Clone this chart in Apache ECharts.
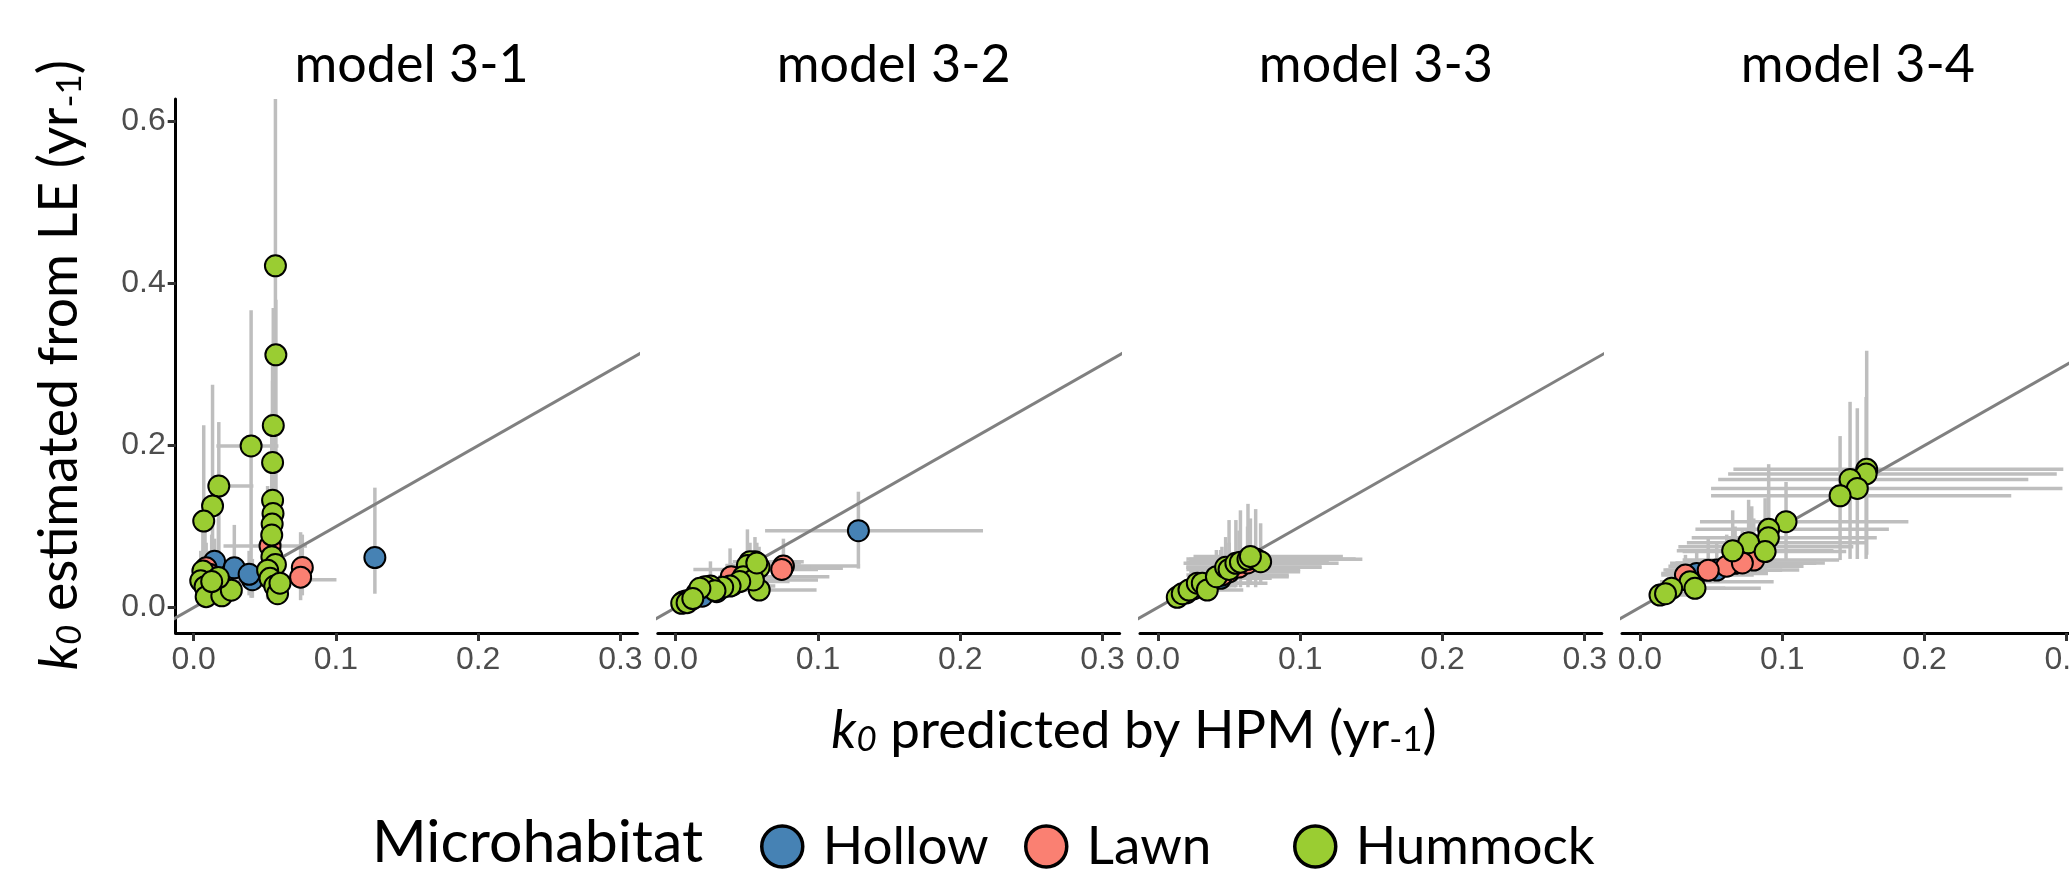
<!DOCTYPE html>
<html>
<head>
<meta charset="utf-8">
<script src="https://cdn.jsdelivr.net/npm/echarts@6/dist/echarts.min.js"></script>
<style>
html,body{margin:0;padding:0;background:#fff;}
#chart{width:2069px;height:873px;}
</style>
</head>
<body>
<div id="chart"></div>
<script>
// ---- data: [x, y, xlo, xhi, ylo, yhi] ----
const xTicks = [0, 0.1, 0.2, 0.3];
const yTicks = [0, 0.2, 0.4, 0.6];
const panelTitles = ['model 3-1', 'model 3-2', 'model 3-3', 'model 3-4'];
const habitats = ['Hollow', 'Lawn', 'Hummock'];
const habitatColors = ['#4682B4', '#FA8072', '#9ACD32'];
const oneToOne = [[-0.1, -0.1], [0.8, 0.8]];

const m31Hollow = [
  [0.1274, 0.0617, 0.1260, 0.1290, 0.017, 0.148],
  [0.0147, 0.0570, 0.0100, 0.0220, 0.030, 0.085],
  [0.0286, 0.0490, 0.0220, 0.0360, 0.010, 0.102],
  [0.0413, 0.0343, 0.0300, 0.1004, 0.012, 0.060],
  [0.0390, 0.0410, 0.0330, 0.0480, 0.015, 0.070],
  [0.0186, 0.0300, 0.0140, 0.0240, 0.012, 0.055]
];
const m31Lawn = [
  [0.0537, 0.0760, 0.0210, 0.0796, 0.030, 0.120],
  [0.0764, 0.0493, 0.0700, 0.0820, 0.015, 0.090],
  [0.0752, 0.0375, 0.0700, 0.0800, 0.009, 0.093],
  [0.0088, 0.0490, 0.0060, 0.0130, 0.020, 0.080],
  [0.0110, 0.0410, 0.0080, 0.0160, 0.018, 0.070]
];
const m31Hummock = [
  [0.0575, 0.4220, 0.0550, 0.0600, 0.010, 0.700],
  [0.0578, 0.3120, 0.0550, 0.0600, 0.020, 0.380],
  [0.0560, 0.2247, 0.0540, 0.0580, 0.015, 0.370],
  [0.0404, 0.1995, 0.0160, 0.0596, 0.012, 0.367],
  [0.0555, 0.1790, 0.0530, 0.0580, 0.020, 0.300],
  [0.0177, 0.1500, 0.0160, 0.0420, 0.010, 0.229],
  [0.0133, 0.1255, 0.0120, 0.0150, 0.010, 0.275],
  [0.0071, 0.1067, 0.0060, 0.0080, 0.010, 0.225],
  [0.0555, 0.1324, 0.0530, 0.0580, 0.020, 0.280],
  [0.0558, 0.1160, 0.0530, 0.0580, 0.020, 0.260],
  [0.0552, 0.1030, 0.0530, 0.0575, 0.020, 0.240],
  [0.0549, 0.0895, 0.0530, 0.0575, 0.015, 0.220],
  [0.0550, 0.0627, 0.0500, 0.0600, 0.010, 0.200],
  [0.0575, 0.0530, 0.0520, 0.0620, 0.010, 0.180],
  [0.0520, 0.0460, 0.0480, 0.0570, 0.010, 0.150],
  [0.0537, 0.0360, 0.0490, 0.0580, 0.010, 0.120],
  [0.0570, 0.0265, 0.0520, 0.0620, 0.008, 0.100],
  [0.0590, 0.0170, 0.0550, 0.0640, 0.005, 0.080],
  [0.0607, 0.0300, 0.0560, 0.0650, 0.008, 0.090],
  [0.0065, 0.0450, 0.0040, 0.0090, 0.015, 0.092],
  [0.0050, 0.0330, 0.0030, 0.0080, 0.015, 0.070],
  [0.0080, 0.0257, 0.0050, 0.0120, 0.010, 0.116],
  [0.0088, 0.0134, 0.0060, 0.0120, 0.005, 0.060],
  [0.0198, 0.0145, 0.0150, 0.0250, 0.005, 0.050],
  [0.0265, 0.0214, 0.0200, 0.0340, 0.008, 0.060],
  [0.0174, 0.0370, 0.0120, 0.0250, 0.012, 0.110],
  [0.0127, 0.0320, 0.0100, 0.0160, 0.010, 0.090]
];

const m32Hollow = [
  [0.1284, 0.0948, 0.0628, 0.2160, 0.048, 0.143],
  [0.0148, 0.0175, 0.0100, 0.0300, 0.010, 0.030],
  [0.0288, 0.0195, 0.0200, 0.0450, 0.012, 0.035],
  [0.0400, 0.0280, 0.0300, 0.0650, 0.018, 0.045],
  [0.0186, 0.0140, 0.0120, 0.0300, 0.008, 0.025],
  [0.0390, 0.0310, 0.0280, 0.0600, 0.020, 0.050]
];
const m32Lawn = [
  [0.0757, 0.0512, 0.0350, 0.1296, 0.040, 0.085],
  [0.0745, 0.0470, 0.0600, 0.1000, 0.035, 0.065],
  [0.0390, 0.0380, 0.0300, 0.0800, 0.028, 0.055],
  [0.0077, 0.0084, 0.0050, 0.0150, 0.004, 0.015],
  [0.0054, 0.0072, 0.0040, 0.0120, 0.003, 0.013],
  [0.0110, 0.0100, 0.0080, 0.0200, 0.006, 0.018]
];
const m32Hummock = [
  [0.0557, 0.0566, 0.0450, 0.0900, 0.040, 0.087],
  [0.0569, 0.0484, 0.0450, 0.1175, 0.035, 0.070],
  [0.0586, 0.0496, 0.0480, 0.0950, 0.036, 0.075],
  [0.0587, 0.0216, 0.0450, 0.0990, 0.015, 0.035],
  [0.0522, 0.0470, 0.0124, 0.0800, 0.033, 0.068],
  [0.0522, 0.0565, 0.0400, 0.0850, 0.040, 0.080],
  [0.0504, 0.0520, 0.0350, 0.0750, 0.035, 0.0965],
  [0.0475, 0.0380, 0.0350, 0.1080, 0.028, 0.060],
  [0.0546, 0.0340, 0.0400, 0.1000, 0.025, 0.060],
  [0.0450, 0.0320, 0.0300, 0.0800, 0.022, 0.055],
  [0.0382, 0.0265, 0.0250, 0.0700, 0.018, 0.073],
  [0.0330, 0.0250, 0.0200, 0.0600, 0.017, 0.045],
  [0.0244, 0.0265, 0.0120, 0.0400, 0.018, 0.057],
  [0.0206, 0.0257, 0.0150, 0.0350, 0.017, 0.040],
  [0.0276, 0.0208, 0.0170, 0.0450, 0.014, 0.035],
  [0.0170, 0.0237, 0.0120, 0.0300, 0.015, 0.035],
  [0.0042, 0.0052, 0.0030, 0.0100, 0.002, 0.010],
  [0.0080, 0.0060, 0.0050, 0.0150, 0.003, 0.012],
  [0.0120, 0.0110, 0.0080, 0.0200, 0.006, 0.018],
  [0.0570, 0.0550, 0.0450, 0.0880, 0.040, 0.080]
];

const m33Hollow = [
  [0.0441, 0.0360, 0.0300, 0.0800, 0.028, 0.071],
  [0.0300, 0.0270, 0.0200, 0.0550, 0.020, 0.045],
  [0.0250, 0.0230, 0.0180, 0.0450, 0.016, 0.035]
];
const m33Lawn = [
  [0.0500, 0.0440, 0.0220, 0.1000, 0.032, 0.080],
  [0.0570, 0.0500, 0.0200, 0.1150, 0.035, 0.095],
  [0.0630, 0.0550, 0.0250, 0.1200, 0.038, 0.100],
  [0.0450, 0.0400, 0.0200, 0.0920, 0.030, 0.075],
  [0.0200, 0.0180, 0.0150, 0.0400, 0.012, 0.030]
];
const m33Hummock = [
  [0.0136, 0.0126, 0.0100, 0.0200, 0.008, 0.020],
  [0.0171, 0.0170, 0.0120, 0.0300, 0.010, 0.028],
  [0.0218, 0.0216, 0.0150, 0.0400, 0.012, 0.035],
  [0.0277, 0.0300, 0.0180, 0.0700, 0.020, 0.045],
  [0.0312, 0.0300, 0.0200, 0.0770, 0.020, 0.050],
  [0.0347, 0.0216, 0.0200, 0.0600, 0.015, 0.040],
  [0.0411, 0.0380, 0.0250, 0.0920, 0.025, 0.071],
  [0.0476, 0.0496, 0.0200, 0.1150, 0.030, 0.087],
  [0.0500, 0.0470, 0.0200, 0.1000, 0.025, 0.108],
  [0.0548, 0.0546, 0.0180, 0.1270, 0.025, 0.108],
  [0.0580, 0.0560, 0.0200, 0.1200, 0.025, 0.120],
  [0.0633, 0.0595, 0.0220, 0.1437, 0.025, 0.128],
  [0.0687, 0.0600, 0.0200, 0.1390, 0.025, 0.1215],
  [0.0722, 0.0566, 0.0300, 0.1100, 0.030, 0.104],
  [0.0650, 0.0630, 0.0250, 0.1300, 0.030, 0.110]
];

const m34Hollow = [
  [0.0786, 0.0750, 0.0270, 0.1500, 0.055, 0.125],
  [0.0540, 0.0463, 0.0165, 0.1120, 0.035, 0.080],
  [0.0399, 0.0420, 0.0150, 0.0900, 0.030, 0.070]
];
const m34Lawn = [
  [0.0800, 0.0586, 0.0300, 0.1400, 0.045, 0.110],
  [0.0669, 0.0545, 0.0212, 0.1240, 0.040, 0.100],
  [0.0610, 0.0510, 0.0200, 0.1150, 0.038, 0.090],
  [0.0480, 0.0460, 0.0180, 0.1000, 0.035, 0.085],
  [0.0320, 0.0400, 0.0150, 0.0800, 0.030, 0.065],
  [0.0720, 0.0550, 0.0250, 0.1300, 0.040, 0.095]
];
const m34Hummock = [
  [0.1594, 0.1706, 0.0657, 0.2976, 0.065, 0.317],
  [0.1590, 0.1650, 0.0620, 0.2930, 0.060, 0.260],
  [0.1477, 0.1580, 0.0550, 0.2730, 0.060, 0.254],
  [0.1528, 0.1470, 0.0500, 0.2970, 0.060, 0.246],
  [0.1407, 0.1380, 0.0500, 0.2610, 0.0586, 0.2117],
  [0.1027, 0.1060, 0.0422, 0.1887, 0.060, 0.155],
  [0.0905, 0.0965, 0.0390, 0.1750, 0.050, 0.177],
  [0.0903, 0.0862, 0.0364, 0.1665, 0.050, 0.140],
  [0.0764, 0.0800, 0.0330, 0.1587, 0.045, 0.133],
  [0.0880, 0.0690, 0.0300, 0.1450, 0.045, 0.135],
  [0.0652, 0.0700, 0.0259, 0.1360, 0.040, 0.120],
  [0.0352, 0.0319, 0.0141, 0.0940, 0.020, 0.060],
  [0.0387, 0.0237, 0.0150, 0.0850, 0.015, 0.050],
  [0.0223, 0.0237, 0.0120, 0.0600, 0.015, 0.040],
  [0.0141, 0.0154, 0.0100, 0.0400, 0.010, 0.030],
  [0.0180, 0.0170, 0.0110, 0.0450, 0.011, 0.032]
];

const panels = [
  [m31Hollow, m31Lawn, m31Hummock],
  [m32Hollow, m32Lawn, m32Hummock],
  [m33Hollow, m33Lawn, m33Hummock],
  [m34Hollow, m34Lawn, m34Hummock]
];

// ---- layout ----
const panelLeft = [175.7, 657.8, 1140, 1622];
const panelWidth = 461.8;
const panelTop = 99;
const panelHeight = 534;
const xMin = -0.0126, xMax = 0.312;
const yMin = -0.0315, yMax = 0.628;
const titleFont = 'Lato';

const chart = echarts.init(document.getElementById('chart'), null, {renderer: 'canvas'});

const grids = [], xAxes = [], yAxes = [], series = [], graphics = [];
panels.forEach((groups, i) => {
  grids.push({left: panelLeft[i], top: panelTop, width: panelWidth, height: panelHeight,
    containLabel: false, outerBoundsMode: 'none'});
  xAxes.push({
    gridIndex: i, type: 'value', min: xMin, max: xMax,
    axisLine: {show: true, onZero: false, lineStyle: {color: '#000', width: 3}},
    axisTick: {show: true, customValues: xTicks, length: 8, lineStyle: {color: '#333', width: 3}},
    axisLabel: {show: true, customValues: xTicks, formatter: v => v.toFixed(1),
      color: '#4D4D4D', fontSize: 32, fontFamily: 'Liberation Sans', margin: 11},
    splitLine: {show: false}
  });
  yAxes.push({
    gridIndex: i, type: 'value', min: yMin, max: yMax,
    axisLine: {show: i === 0, onZero: false, lineStyle: {color: '#000', width: 3}},
    axisTick: {show: i === 0, customValues: yTicks, length: 8, lineStyle: {color: '#333', width: 3}},
    axisLabel: {show: i === 0, customValues: yTicks, formatter: v => v.toFixed(1),
      color: '#4D4D4D', fontSize: 32, fontFamily: 'Liberation Sans', margin: 10},
    splitLine: {show: false}
  });
  const allPts = [].concat(groups[0], groups[1], groups[2]);
  series.push({
    type: 'custom', xAxisIndex: i, yAxisIndex: i, z: 1, silent: true, clip: true,
    dimensions: ['x', 'y', 'xlo', 'xhi', 'ylo', 'yhi'],
    encode: {x: 0, y: 1},
    data: allPts,
    renderItem: function (params, api) {
      const x = api.value(0), y = api.value(1);
      const a = api.coord([x, api.value(4)]), b = api.coord([x, api.value(5)]);
      const c = api.coord([api.value(2), y]), d = api.coord([api.value(3), y]);
      const st = {stroke: '#BEBEBE', lineWidth: 3.5};
      return {type: 'group', children: [
        {type: 'line', shape: {x1: a[0], y1: a[1], x2: b[0], y2: b[1]}, style: st},
        {type: 'line', shape: {x1: c[0], y1: c[1], x2: d[0], y2: d[1]}, style: st}
      ]};
    }
  });
  series.push({
    type: 'line', xAxisIndex: i, yAxisIndex: i, z: 2, silent: true, clip: true,
    data: oneToOne, symbol: 'none', lineStyle: {color: '#808080', width: 3}
  });
  groups.forEach((g, h) => {
    series.push({
      type: 'scatter', name: habitats[h], xAxisIndex: i, yAxisIndex: i, z: 3 + h,
      data: g.map(p => [p[0], p[1]]), symbolSize: 21,
      itemStyle: {color: habitatColors[h], borderColor: '#000', borderWidth: 2, opacity: 1}
    });
  });
  graphics.push({
    type: 'text', x: panelLeft[i] + panelWidth / 2 + 5, y: 65,
    style: {text: panelTitles[i], font: '52px ' + titleFont, fill: '#000',
      textAlign: 'center', align: 'center', textVerticalAlign: 'middle', verticalAlign: 'middle'}
  });
});

const richSub = {
  k: {fontStyle: 'italic', fontSize: 53, fontFamily: titleFont},
  s: {fontStyle: 'italic', fontSize: 35, fontFamily: titleFont, verticalAlign: 'bottom', lineHeight: 35},
  m: {fontSize: 35, fontFamily: titleFont, verticalAlign: 'bottom', lineHeight: 35}
};

graphics.push({
  type: 'text', x: 1134, y: 731,
  style: {text: '{k|k}{s|0} predicted by HPM (yr{m|-1})', font: '53px ' + titleFont, fill: '#000',
    rich: richSub, textAlign: 'center', align: 'center', textVerticalAlign: 'middle', verticalAlign: 'middle'}
});
graphics.push({
  type: 'text', x: 60, y: 365, rotation: Math.PI / 2,
  style: {text: '{k|k}{s|0} estimated from LE (yr{m|-1})', font: '53.5px ' + titleFont, fill: '#000',
    rich: richSub, textAlign: 'center', align: 'center', textVerticalAlign: 'middle', verticalAlign: 'middle'}
});
graphics.push({
  type: 'text', x: 372, y: 843,
  style: {text: 'Microhabitat', font: '59px ' + titleFont, fill: '#000',
    textAlign: 'left', align: 'left', textVerticalAlign: 'middle', verticalAlign: 'middle'}
});

const legendLeft = [760, 1024, 1293];
const legends = habitats.map((h, k) => ({
  data: [h], left: legendLeft[k], top: 820, orient: 'horizontal', padding: 0,
  icon: 'circle', itemWidth: 41, itemHeight: 41, selectedMode: false,
  itemStyle: {borderColor: '#000', borderWidth: 3.5},
  textStyle: {fontFamily: titleFont, fontSize: 53, color: '#000', padding: [0, 0, 0, 15]}
}));

chart.setOption({
  animation: false,
  backgroundColor: '#fff',
  grid: grids, xAxis: xAxes, yAxis: yAxes, series: series,
  legend: legends, graphic: graphics
});
</script>
</body>
</html>
